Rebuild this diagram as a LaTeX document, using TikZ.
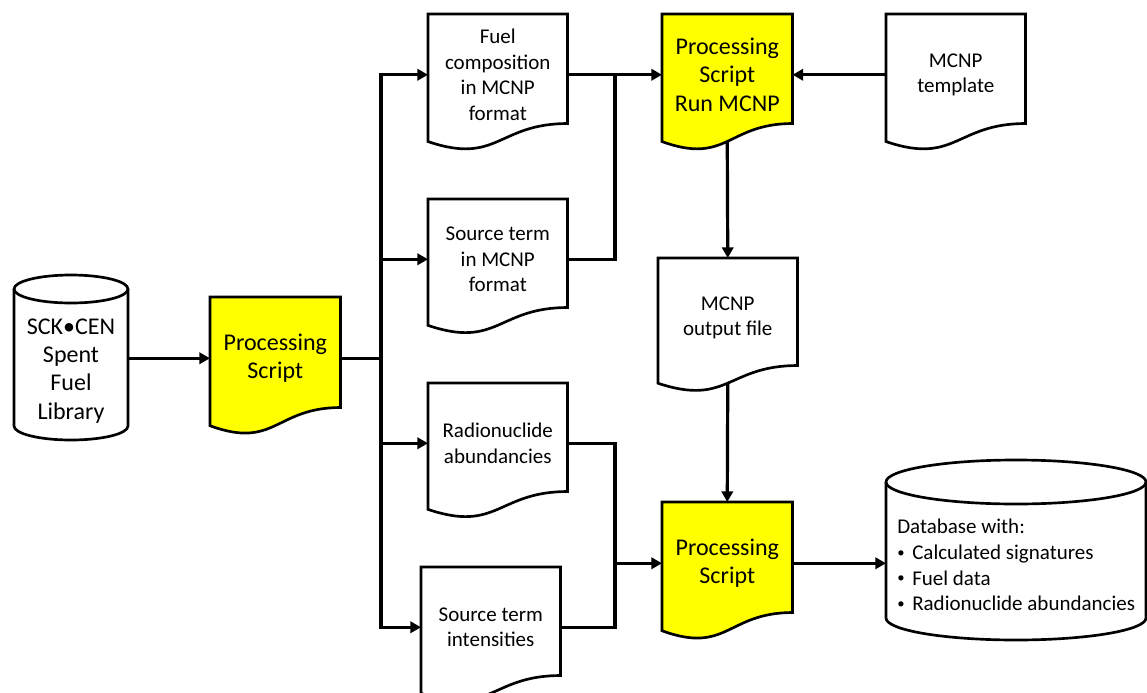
\documentclass[tikz,border=0pt]{standalone}
\usepackage{fontspec}
\setmainfont{Carlito}
\usetikzlibrary{arrows.meta,calc,backgrounds}
\definecolor{docyellow}{HTML}{FFFF00}
\newcommand\smallfont{\fontsize{15.75pt}{19.3pt}\selectfont}
\newcommand\bigfont{\fontsize{18pt}{21.2pt}\selectfont}
\newcommand\lbul{\makebox[11.25pt][l]{\raisebox{1.6pt}{\scalebox{0.7}{•}}}}
\tikzset{
  line/.style={line width=2.4pt, draw=black},
  arr/.style={line, -{Triangle[length=8pt,width=8.5pt]}},
  barr/.style={line, {Triangle[length=8pt,width=8.5pt]}-{Triangle[length=8pt,width=8.5pt]}},
  outline/.style={line width=2pt, draw=black, line join=miter},
  docnode/.style 2 args={draw=none, inner sep=0pt, align=center, anchor=north west,
     minimum width=#1*0.75pt, minimum height=#2*0.75pt, font=\smallfont},
}
\newcommand\docshape[2][white]{%
  \path[outline, fill=#1] let \p1=(#2.north west), \p2=(#2.south east), \n1={\y1-\y2} in
    ({\x1},{\y1+4.5pt}) -- ({\x2},{\y1+4.5pt}) -- ({\x2},{\y2+4.5pt})
    .. controls ({0.5*\x1+0.5*\x2},{\y2+4.5pt}) and ({0.5*\x1+0.5*\x2},{\y2+4.5pt-0.381*\n1}) .. ({\x1},{\y2+4.5pt-0.1646*\n1}) -- cycle
    ({0.5*\x1+0.5*\x2},{\y2+4.5pt-0.1633*\n1}) coordinate (#2-b)
    ({0.5*\x1+0.5*\x2},{\y1+4.5pt}) coordinate (#2-t);
}
\begin{document}
\begin{tikzpicture}[x=0.75pt, y=-0.75pt]
\useasboundingbox (0,0) rectangle (1147,693);

% document nodes (text areas)
\node[docnode={139}{109}] (fuel) at (428,20) {Fuel\\composition\\in MCNP\\format};
\node[docnode={139}{108}] (src) at (428,205) {Source term\\in MCNP\\format};
\node[docnode={130}{109}, font=\bigfont] (run) at (662,20) {Processing\\Script\\Run MCNP};
\node[docnode={139}{109}] (tmpl) at (886,20) {MCNP\\template};
\node[docnode={139}{107}] (out) at (658,264) {MCNP\\output file};
\node[docnode={139}{108}] (rad) at (428,389) {Radionuclide\\abundancies};
\node[docnode={139}{108}] (sti) at (421,573) {Source term\\intensities};
\node[docnode={130}{110}, font=\bigfont] (ps2) at (662,508) {Processing\\Script};
\node[docnode={130}{110}, font=\bigfont] (ps1) at (210,303) {Processing\\Script};

% cylinders
\node[font=\bigfont, align=center, minimum width=114*0.75pt, inner sep=0pt] (sck) at (71,371)
  {SCK•CEN\\Spent\\Fuel\\Library};
\node[font=\smallfont, align=left, anchor=west, inner xsep=8.25pt, inner ysep=0pt] (db) at (886,565)
  {Database with:\\\lbul Calculated signatures\\\lbul Fuel data\\\lbul Radionuclide abundancies};

\begin{pgfonlayer}{background}
  \docshape{fuel}
  \docshape{src}
  \docshape[docyellow]{run}
  \docshape{tmpl}
  \docshape{out}
  \docshape{rad}
  \docshape{sti}
  \docshape[docyellow]{ps2}
  \docshape[docyellow]{ps1}
  \draw[outline, fill=white] (14,289) -- (14,426) arc[start angle=180, end angle=0, x radius=57, y radius=14] -- (128,289);
  \draw[outline] (71,289) ellipse [x radius=57, y radius=14];
  \draw[outline, fill=white] (886,482) -- (886,618) arc[start angle=180, end angle=0, x radius=130, y radius=22] -- (1146,482);
  \draw[outline] (1016,482) ellipse [x radius=130, y radius=22];
\end{pgfonlayer}

\coordinate (bus) at (381,0);
\coordinate (join) at (615,0);

% connectors
\draw[arr] (ps1.west -| sck.east) -- (ps1.west);
\draw[line] (ps1.east) -- (ps1.east -| bus);
\draw[barr] (fuel.west) -- (fuel.west -| bus) -- (sti.west -| bus) -- (sti.west);
\draw[arr] (src.west -| bus) -- (src.west);
\draw[arr] (rad.west -| bus) -- (rad.west);
\draw[arr] (fuel.east) -- (run.west);
\draw[line] (src.east) -| (fuel.east -| join);
\draw[arr] (tmpl.west) -- (run.east);
\draw[arr] (run-b) -- (out-t);
\draw[arr] (out-b) -- (ps2-t);
\draw[line] (rad.east) -| (sti.east -| join) -- (sti.east);
\draw[arr] (ps2.west -| join) -- (ps2.west);
\draw[arr] (ps2.east) -- (ps2.east -| db.west);
\end{tikzpicture}
\end{document}
